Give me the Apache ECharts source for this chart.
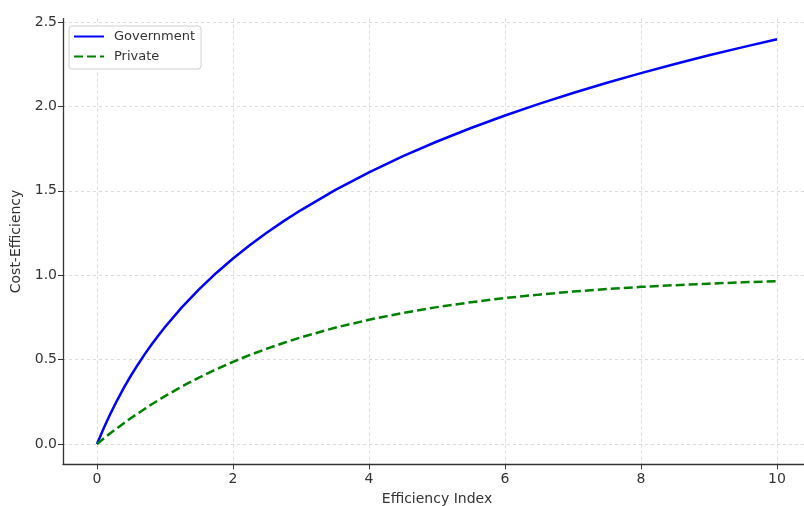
<!DOCTYPE html>
<html>
<head>
<meta charset="utf-8">
<script src="https://cdn.jsdelivr.net/npm/echarts@6/dist/echarts.min.js"></script>
<style>
html,body{margin:0;padding:0;background:#fff;}
#chart{width:804px;height:506px;}
</style>
</head>
<body>
<div id="chart"></div>
<script>
// x positions read along the Efficiency Index axis
var xValues = [0, 0.1, 0.2, 0.3, 0.4, 0.5, 0.6, 0.7, 0.8, 0.9, 1, 1.25, 1.5, 1.75, 2, 2.25, 2.5, 2.75, 3, 3.5, 4, 4.5, 5, 5.5, 6, 6.5, 7, 7.5, 8, 8.5, 9, 9.5, 10];
// Government curve
var governmentValues = [0, 0.095, 0.182, 0.262, 0.337, 0.406, 0.470, 0.531, 0.588, 0.642, 0.693, 0.811, 0.916, 1.012, 1.099, 1.179, 1.253, 1.322, 1.386, 1.504, 1.609, 1.705, 1.792, 1.872, 1.946, 2.015, 2.079, 2.140, 2.197, 2.251, 2.303, 2.351, 2.398];
// Private curve
var privateValues = [0, 0.033, 0.065, 0.095, 0.125, 0.154, 0.181, 0.208, 0.234, 0.259, 0.284, 0.341, 0.394, 0.442, 0.487, 0.528, 0.565, 0.600, 0.632, 0.689, 0.736, 0.777, 0.811, 0.840, 0.865, 0.885, 0.903, 0.918, 0.931, 0.941, 0.950, 0.958, 0.964];
var xTicks = [0, 2, 4, 6, 8, 10];
var yTicks = [0, 0.5, 1.0, 1.5, 2.0, 2.5];
var seriesNames = ['Government', 'Private'];
var xAxisTitle = 'Efficiency Index';
var yAxisTitle = 'Cost-Efficiency';

function pairs(xs, ys) {
  return xs.map(function (x, i) { return [x, ys[i]]; });
}

var FONT = 'DejaVu Sans';
var chart = echarts.init(document.getElementById('chart'), null, {renderer: 'canvas'});
chart.setOption({
  animation: false,
  backgroundColor: '#ffffff',
  textStyle: {fontFamily: FONT},
  grid: {left: 63, width: 748, top: 18.6, height: 445.7, containLabel: false, outerBoundsMode: 'none'},
  legend: {
    orient: 'vertical',
    left: 69, top: 26,
    padding: [4, 6, 6, 4],
    itemWidth: 30, itemHeight: 14, itemGap: 7,
    borderColor: '#d0d0d0', borderWidth: 1, borderRadius: 3,
    backgroundColor: '#ffffff',
    itemStyle: {opacity: 0},
    textStyle: {fontFamily: FONT, fontSize: 13, color: '#333', padding: [0, 0, 0, 5]},
    data: seriesNames
  },
  xAxis: {
    type: 'value', min: -0.5, max: 10.5,
    name: xAxisTitle, nameLocation: 'middle', nameGap: 28,
    nameTextStyle: {fontFamily: FONT, fontSize: 14, color: '#333'},
    axisLine: {show: true, onZero: false, lineStyle: {color: '#333', width: 1.3}},
    axisTick: {show: true, length: 5, customValues: xTicks, lineStyle: {color: '#333', width: 1}},
    axisLabel: {customValues: xTicks, fontFamily: FONT, fontSize: 14, color: '#333', margin: 8},
    splitLine: {show: true, lineStyle: {color: '#dcdcdc', type: [3, 3], width: 1}}
  },
  yAxis: {
    type: 'value', min: -0.12, max: 2.52,
    name: yAxisTitle, nameLocation: 'middle', nameGap: 32, nameRotate: 90,
    nameTextStyle: {fontFamily: FONT, fontSize: 14, color: '#333'},
    axisLine: {show: true, onZero: false, lineStyle: {color: '#333', width: 1.3}},
    axisTick: {show: true, length: 5, customValues: yTicks, lineStyle: {color: '#333', width: 1}},
    axisLabel: {customValues: yTicks, fontFamily: FONT, fontSize: 14, color: '#333', margin: 6,
      formatter: function (v) { return v.toFixed(1); }},
    splitLine: {show: true, lineStyle: {color: '#dcdcdc', type: [3, 3], width: 1}}
  },
  series: [
    {
      name: seriesNames[0], type: 'line', showSymbol: false, symbol: 'none',
      smooth: false,
      data: pairs(xValues, governmentValues),
      lineStyle: {color: '#0000ff', width: 2.5},
      itemStyle: {color: '#0000ff'}
    },
    {
      name: seriesNames[1], type: 'line', showSymbol: false, symbol: 'none',
      smooth: false,
      data: pairs(xValues, privateValues),
      lineStyle: {color: '#008000', width: 2.5, type: [9, 4]},
      itemStyle: {color: '#008000'}
    }
  ]
});
</script>
</body>
</html>
